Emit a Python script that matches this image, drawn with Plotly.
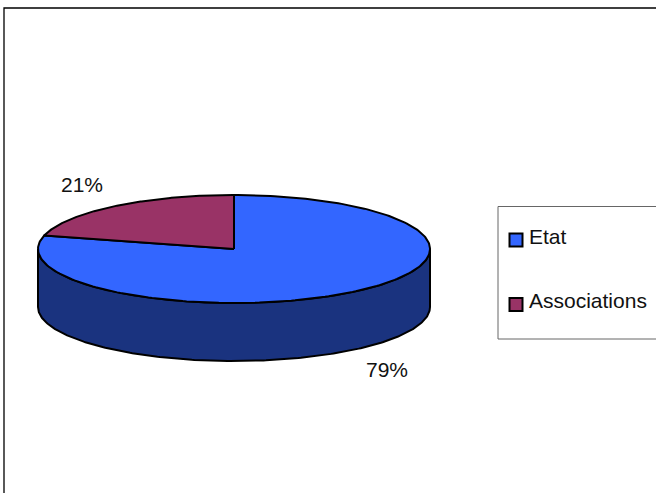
import numpy as np
import plotly.graph_objects as go

# Data
categories = ["Etat", "Associations"]
values = [79, 21]
colors = ["#3366FF", "#993366"]
side_color = "#1A337F"

# Geometry of the pie (pixel-like axis units)
CX, CY, RX, RY, DEPTH = 234, 249, 196, 54, 58
FONT = dict(family="Liberation Sans, Arial, sans-serif", size=21, color="#111111")
EDGE = dict(color="black", width=2)


def rim(a0, a1, dy=0, n=240):
    """Points on the ellipse; angle in degrees, clockwise from the top."""
    t = np.radians(np.linspace(a0, a1, n))
    return CX + RX * np.sin(t), CY + dy - RY * np.cos(t)


fig = go.Figure()

# Visible outer wall (front half of the rim)
xa, ya = rim(90, 270)
xb, yb = rim(270, 90, dy=DEPTH)
fig.add_trace(go.Scatter(
    x=np.r_[xa, xb, xa[0]], y=np.r_[ya, yb, ya[0]], mode="lines", fill="toself",
    fillcolor=side_color, line=EDGE, hoverinfo="skip", showlegend=False))

# Slices, clockwise from 12 o'clock
total = sum(values)
start = 0.0
for name, v, c in zip(categories, values, colors):
    end = start + 360.0 * v / total
    x, y = rim(start, end)
    fig.add_trace(go.Scatter(
        x=np.r_[CX, x, CX], y=np.r_[CY, y, CY], mode="lines", fill="toself",
        fillcolor=c, line=EDGE, name=name,
        text=f"{name}: {v}%", hoverinfo="text", showlegend=False))
    start = end

# Legend key markers
legend_pos = [(516, 240), (516, 304.5)]
for (lx, ly), name, c in zip(legend_pos, categories, colors):
    fig.add_trace(go.Scatter(
        x=[lx], y=[ly], mode="markers",
        marker=dict(symbol="square", size=13, color=c, line=EDGE),
        name=name, hoverinfo="name", showlegend=False))

annotations = [
    dict(x=527, y=236.5, text=categories[0], xanchor="left"),
    dict(x=527, y=300.5, text=categories[1], xanchor="left"),
    dict(x=386.5, y=369.5, text=f"{values[0]}%", xanchor="center"),
    dict(x=82, y=184.5, text=f"{values[1]}%", xanchor="center"),
]
for a in annotations:
    a.update(xref="x", yref="y", yanchor="middle", showarrow=False, font=FONT)

fig.update_layout(
    width=656, height=493, margin=dict(l=0, r=0, t=0, b=0),
    paper_bgcolor="white", plot_bgcolor="white", showlegend=False,
    xaxis=dict(range=[0, 656], visible=False, fixedrange=True),
    yaxis=dict(range=[493, 0], visible=False, fixedrange=True),
    annotations=annotations,
    shapes=[
        dict(type="rect", xref="x", yref="y", x0=4, y0=8, x1=700, y1=540,
             line=dict(color="black", width=1.3), layer="below"),
        dict(type="rect", xref="x", yref="y", x0=498, y0=206.5, x1=700, y1=339,
             line=dict(color="#666666", width=1), fillcolor="white", layer="below"),
    ],
)

fig.write_html("out.html", config=dict(displayModeBar=False),
               post_script="document.body.style.margin='0';document.body.style.overflow='hidden';")
